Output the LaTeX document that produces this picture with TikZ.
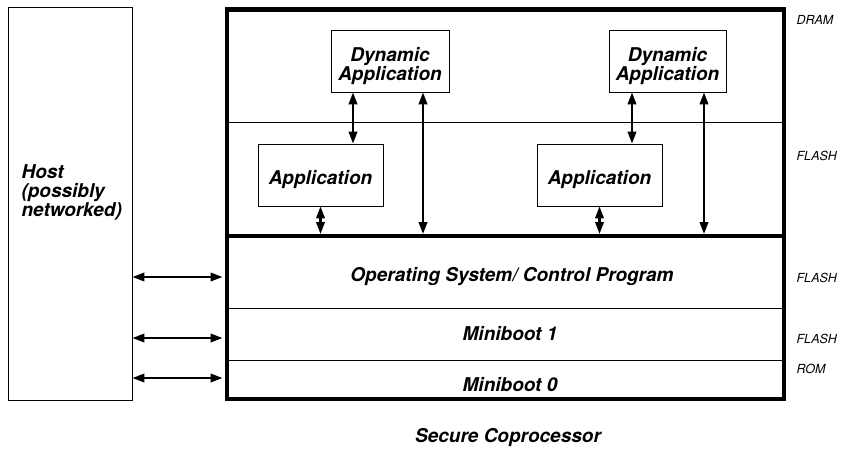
\documentclass[tikz,border=0pt]{standalone}
\usepackage{fontspec}
\setmainfont{TeX Gyre Heros}
\usetikzlibrary{arrows.meta}

\begin{document}
\begin{tikzpicture}[x=1pt,y=-1pt,
  box/.style={draw,line width=0.8pt,inner sep=0pt},
  boxtext/.style={align=center,yshift=-5pt,font=\fontsize{19}{19}\selectfont\bfseries\itshape},
  layer/.style={font=\fontsize{19}{19}\selectfont\bfseries\itshape},
  mem/.style={anchor=west,font=\fontsize{12.5}{13}\selectfont\itshape},
  link/.style={{Triangle[length=12pt,width=8.5pt]}-{Triangle[length=12pt,width=8.5pt]},line width=2.2pt}]

\useasboundingbox (0,0) rectangle (846,453);

%Host side
\node[box,minimum width=124,minimum height=393] (host) at (70,203.5) {};
\node[layer,anchor=north west,align=left] (hosttext) at (18,161) {Host\\(possibly\\networked)};

%Coprocessor
\node[draw,line width=4.5pt,minimum width=557,minimum height=389.5,inner sep=0pt] (sc) at (505.5,204.25) {};
\coordinate (dram) at (227,122);
\coordinate (bus) at (227,236);
\coordinate (mb1) at (227,308);
\coordinate (mb0) at (227,360);
\draw[line width=0.8pt] (dram) -- (dram -| sc.east);
\draw[line width=4pt] (bus) -- (bus -| sc.east);
\draw[line width=0.8pt] (mb1) -- (mb1 -| sc.east);
\draw[line width=0.8pt] (mb0) -- (mb0 -| sc.east);

% memory labels
\node[mem] (m1) at (793,20) {DRAM};
\node[mem] (m2) at (793,156) {FLASH};
\node[mem] (m3) at (793,278) {FLASH};
\node[mem] (m4) at (793,339) {FLASH};
\node[mem] (m5) at (793,369) {ROM};

% layers
\node[layer] (os) at (512,277) {Operating System/ Control Program};
\node[layer] (boot1) at (510,334) {Miniboot 1};
\node[layer] (boot0) at (510,385) {Miniboot 0};
\node[layer] (title) at (508,438) {Secure Coprocessor};

% applications
\node[box,minimum width=118,minimum height=62,label={[boxtext]center:Dynamic\\Application}] (dyn1) at (390,61) {};
\node[box,minimum width=117,minimum height=62,label={[boxtext]center:Dynamic\\Application}] (dyn2) at (667.5,61) {};
\node[box,minimum width=125,minimum height=62,label={[boxtext]center:Application}] (app1) at (320.5,175) {};
\node[box,minimum width=125,minimum height=62,label={[boxtext]center:Application}] (app2) at (599.5,175) {};

\draw[link] ([xshift=-37pt]dyn1.south) -- ([xshift=-37pt]dyn1.south |- app1.north);
\draw[link] ([xshift=-35.5pt]dyn2.south) -- ([xshift=-35.5pt]dyn2.south |- app2.north);
\draw[link,shorten >=2pt] ([xshift=33pt]dyn1.south) -- ([xshift=33pt]dyn1.south |- bus);
\draw[link,shorten >=2pt] ([xshift=36.5pt]dyn2.south) -- ([xshift=36.5pt]dyn2.south |- bus);
\draw[link,shorten >=2pt] (app1.south) -- (app1.south |- bus);
\draw[link,shorten >=2pt] (app2.south) -- (app2.south |- bus);

% host links
\draw[link,shorten >=2.25pt] (os -| host.east) -- (os -| sc.west);
\draw[link,shorten >=2.25pt] (host.east |- 0,338) -- (sc.west |- 0,338);
\draw[link,shorten >=2.25pt] (host.east |- 0,378) -- (sc.west |- 0,378);

\end{tikzpicture}
\end{document}
